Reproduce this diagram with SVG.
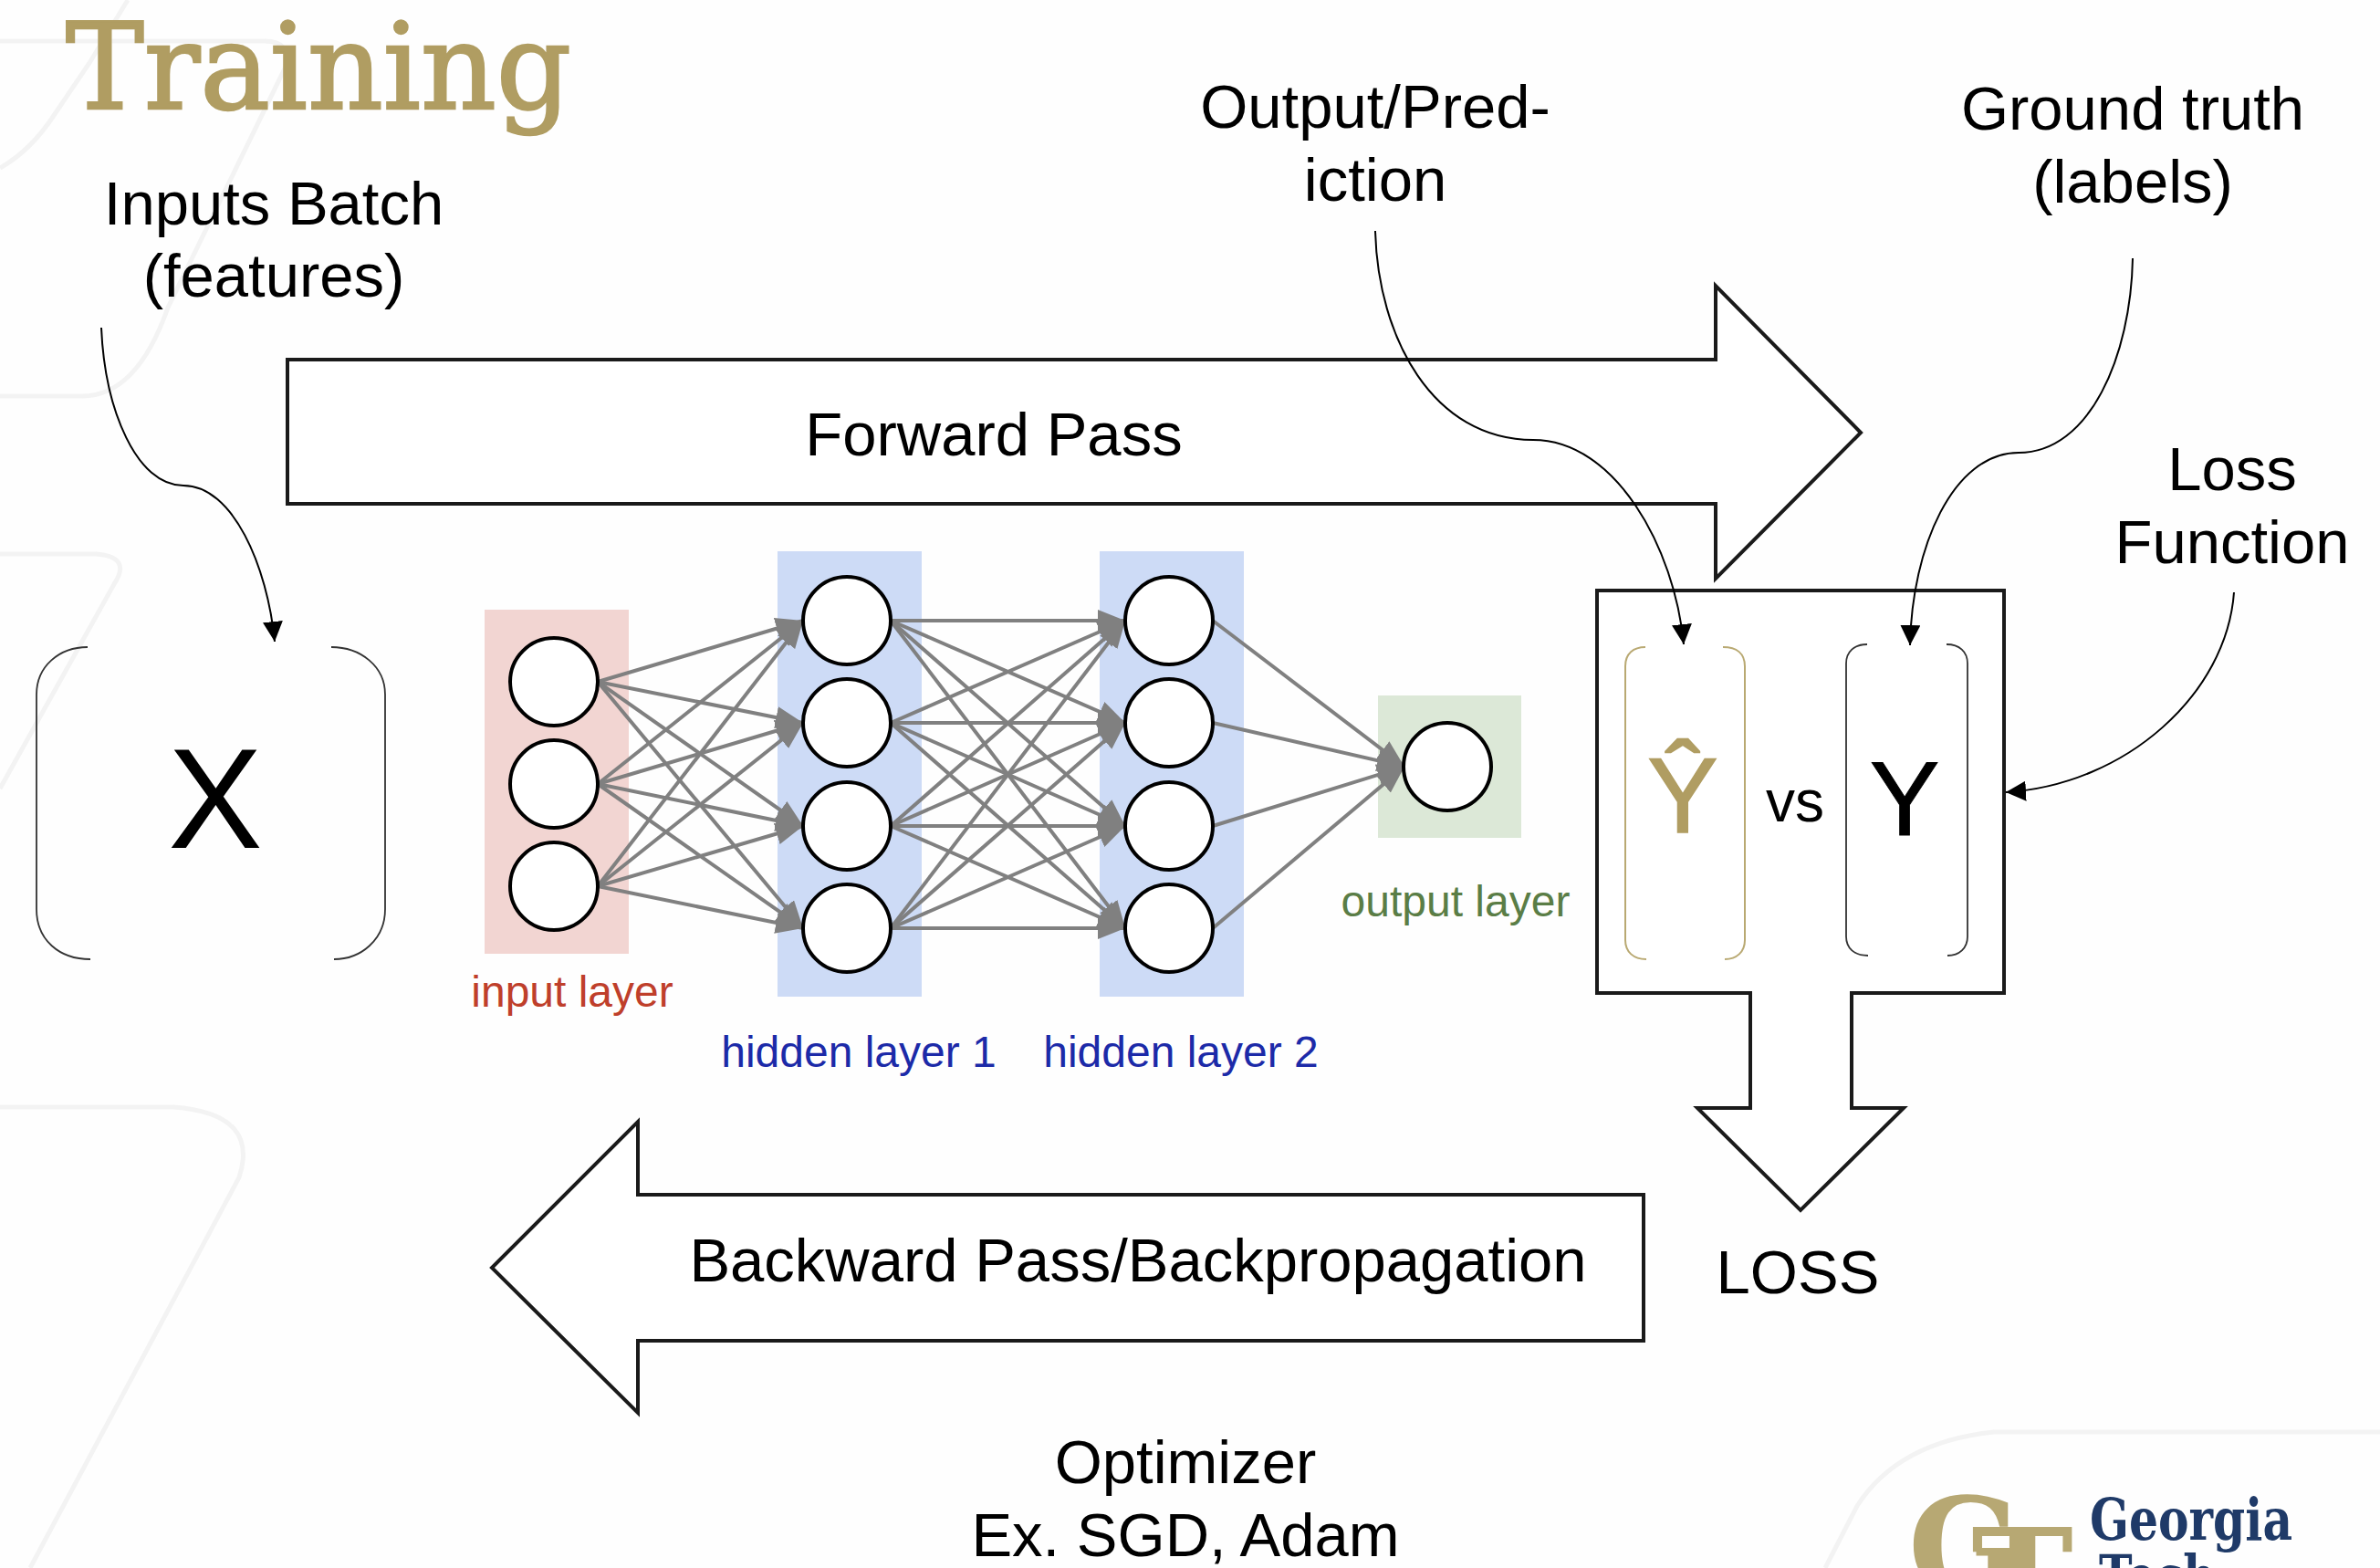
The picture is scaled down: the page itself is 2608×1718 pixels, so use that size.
<svg xmlns="http://www.w3.org/2000/svg" width="2608" height="1718" viewBox="0 0 2608 1718">
<defs>
<marker id="blk" markerUnits="userSpaceOnUse" markerWidth="22" markerHeight="22" refX="22" refY="11" orient="auto"><path d="M0,0L22,11L0,22z" fill="#000"/></marker>
<marker id="gry" markerUnits="userSpaceOnUse" markerWidth="30" markerHeight="24" refX="30" refY="12" orient="auto"><path d="M0,0L30,12L0,24z" fill="#808080"/></marker>
</defs>
<style>
text{font-family:"Liberation Sans",Arial,sans-serif;fill:#000;text-anchor:middle}
.l{font-size:67px}
.serif{font-family:"DejaVu Serif",serif}
.bgl{fill:none;stroke:#f3f3f3;stroke-width:5}
.ar{fill:#fff;stroke:#1a1a1a;stroke-width:4}
.cv{fill:none;stroke:#000;stroke-width:2}
.bk{fill:none;stroke:#333;stroke-width:1.8}
.gd{fill:none;stroke:#b9a972;stroke-width:2}
.e{stroke:#808080;stroke-width:4;marker-end:url(#gry)}
circle{fill:#fff;stroke:#000;stroke-width:4}
.nl{font-size:48px}
.go{fill:#b09d62;stroke:#b09d62}
</style>
<rect width="2608" height="1718" fill="#fefefe"/>
<g id="background">
<path class="bgl" d="M140,0L98,69L60,125Q34,165 0,184"/>
<path class="bgl" d="M0,45H290Q321,45 312,75L184,337Q150,434 90,434H0"/>
<path class="bgl" d="M0,607H105Q145,610 125,640L0,864"/>
<path class="bgl" d="M0,1213H190Q285,1220 262,1290L33,1718"/>
<path class="bgl" d="M2608,1569H2185Q2080,1580 2035,1650L2000,1718"/>
</g>
<g id="title"><text class="serif go" x="349" y="119" font-size="131" stroke-width="2.5" textLength="554" lengthAdjust="spacingAndGlyphs">Training</text></g>
<g id="forward-pass">
<path class="ar" d="M315,394H1880V313L2039,474L1880,634V552H315z"/>
<text class="l" x="1089" y="499">Forward Pass</text>
</g>
<g id="backward-pass">
<path class="ar" d="M1801,1309H699V1229L539,1389L699,1548V1469H1801z"/>
<text class="l" x="1247" y="1404">Backward Pass/Backpropagation</text>
</g>
<g id="input-batch">
<text class="l" x="300" y="246">Inputs Batch</text>
<text class="l" x="300" y="325">(features)</text>
</g>
<g id="x-vector">
<path class="bk" d="M96,709C65,709 40,730 40,761V996C40,1030 65,1051 99,1051"/>
<path class="bk" d="M363,709C395,709 422,730 422,761V996C422,1030 395,1051 366,1051"/>
<text x="236" y="929" font-size="155">X</text>
</g>
<g id="output-label">
<text class="l" x="1507" y="140">Output/Pred-</text>
<text class="l" x="1507" y="220">iction</text>
</g>
<g id="ground-truth-label">
<text class="l" x="2337" y="142">Ground truth</text>
<text class="l" x="2337" y="222">(labels)</text>
</g>
<g id="loss-function-label">
<text class="l" x="2446" y="537">Loss</text>
<text class="l" x="2446" y="617">Function</text>
</g>
<g id="network">
<rect x="531" y="668" width="158" height="377" fill="#f2d5d2"/>
<rect x="852" y="604" width="158" height="488" fill="#cddbf6"/>
<rect x="1205" y="604" width="158" height="488" fill="#cddbf6"/>
<rect x="1510" y="762" width="157" height="156" fill="#dce8d7"/>
<g id="network-edges">
<line class="e" x1="655" y1="747" x2="880" y2="680"/><line class="e" x1="655" y1="747" x2="880" y2="792"/><line class="e" x1="655" y1="747" x2="880" y2="905"/><line class="e" x1="655" y1="747" x2="880" y2="1017"/>
<line class="e" x1="655" y1="859" x2="880" y2="680"/><line class="e" x1="655" y1="859" x2="880" y2="792"/><line class="e" x1="655" y1="859" x2="880" y2="905"/><line class="e" x1="655" y1="859" x2="880" y2="1017"/>
<line class="e" x1="655" y1="971" x2="880" y2="680"/><line class="e" x1="655" y1="971" x2="880" y2="792"/><line class="e" x1="655" y1="971" x2="880" y2="905"/><line class="e" x1="655" y1="971" x2="880" y2="1017"/>
<line class="e" x1="976" y1="680" x2="1233" y2="680"/><line class="e" x1="976" y1="680" x2="1233" y2="792"/><line class="e" x1="976" y1="680" x2="1233" y2="905"/><line class="e" x1="976" y1="680" x2="1233" y2="1017"/>
<line class="e" x1="976" y1="792" x2="1233" y2="680"/><line class="e" x1="976" y1="792" x2="1233" y2="792"/><line class="e" x1="976" y1="792" x2="1233" y2="905"/><line class="e" x1="976" y1="792" x2="1233" y2="1017"/>
<line class="e" x1="976" y1="905" x2="1233" y2="680"/><line class="e" x1="976" y1="905" x2="1233" y2="792"/><line class="e" x1="976" y1="905" x2="1233" y2="905"/><line class="e" x1="976" y1="905" x2="1233" y2="1017"/>
<line class="e" x1="976" y1="1017" x2="1233" y2="680"/><line class="e" x1="976" y1="1017" x2="1233" y2="792"/><line class="e" x1="976" y1="1017" x2="1233" y2="905"/><line class="e" x1="976" y1="1017" x2="1233" y2="1017"/>
<line class="e" x1="1329" y1="680" x2="1539" y2="840"/><line class="e" x1="1329" y1="792" x2="1539" y2="840"/><line class="e" x1="1329" y1="905" x2="1539" y2="840"/><line class="e" x1="1329" y1="1017" x2="1539" y2="840"/>
</g>
<g id="input-layer">
<circle cx="607" cy="747" r="48"/><circle cx="607" cy="859" r="48"/><circle cx="607" cy="971" r="48"/>
<text class="nl" x="627" y="1103" style="fill:#bf3f2b">input layer</text>
</g>
<g id="hidden-layer-1">
<circle cx="928" cy="680" r="48"/><circle cx="928" cy="792" r="48"/><circle cx="928" cy="905" r="48"/><circle cx="928" cy="1017" r="48"/>
<text class="nl" x="941" y="1169" style="fill:#1c2aa8">hidden layer 1</text>
</g>
<g id="hidden-layer-2">
<circle cx="1281" cy="680" r="48"/><circle cx="1281" cy="792" r="48"/><circle cx="1281" cy="905" r="48"/><circle cx="1281" cy="1017" r="48"/>
<text class="nl" x="1294" y="1169" style="fill:#1c2aa8">hidden layer 2</text>
</g>
<g id="output-layer">
<circle cx="1586" cy="840" r="48"/>
<text class="nl" x="1595" y="1004" style="fill:#5a7d46">output layer</text>
</g>
</g>
<g id="loss-box">
<path class="ar" d="M1750,647H2196V1088H2029V1214H2086L1973,1326L1860,1214H1918V1088H1750z"/>
<path class="gd" d="M1803,709C1790,709 1781,716 1781,730V1030C1781,1043 1790,1051 1804,1051"/>
<path class="gd" d="M1888,709C1903,709 1912,716 1912,730V1030C1912,1043 1903,1051 1890,1051"/>
<path class="bk" d="M2046,706C2032,706 2023,714 2023,727V1026C2023,1039 2032,1047 2047,1047"/>
<path class="bk" d="M2133,706C2147,706 2156,714 2156,727V1026C2156,1039 2147,1047 2134,1047"/>
<text class="go" x="1844" y="912" font-size="116" stroke-width="1.5">Ŷ</text>
<text x="1967" y="900" font-size="64">vs</text>
<text x="2087" y="915" font-size="115" stroke="#000" stroke-width="1">Y</text>
</g>
<g id="loss-label"><text class="l" x="1970" y="1417">LOSS</text></g>
<g id="optimizer-label">
<text class="l" x="1299" y="1625">Optimizer</text>
<text class="l" x="1299" y="1705">Ex. SGD, Adam</text>
</g>
<g id="logo">
<text class="serif" x="2153" y="1746" font-size="146" font-weight="bold" style="fill:#b7a873">G</text>
<text class="serif" x="2216" y="1782" font-size="150" font-weight="bold" style="fill:#b7a873">T</text>
<text class="serif" x="2401" y="1687" font-size="64" font-weight="bold" textLength="222" lengthAdjust="spacingAndGlyphs" style="fill:#1f3a68">Georgia</text>
<text class="serif" x="2364" y="1749" font-size="64" font-weight="bold" textLength="128" lengthAdjust="spacingAndGlyphs" style="fill:#1f3a68">Tech</text>
</g>
<g id="connectors">
<path class="cv" marker-end="url(#blk)" d="M111,359C115,450 150,532 201,532C255,532 293,620 301,703"/>
<path class="cv" marker-end="url(#blk)" d="M1507,253C1510,370 1570,482 1680,482C1770,482 1835,600 1845,706"/>
<path class="cv" marker-end="url(#blk)" d="M2337,283C2335,390 2290,496 2212,496C2140,496 2095,600 2093,707"/>
<path class="cv" marker-end="url(#blk)" d="M2448,649C2440,760 2330,860 2198,868"/>
</g>
</svg>
